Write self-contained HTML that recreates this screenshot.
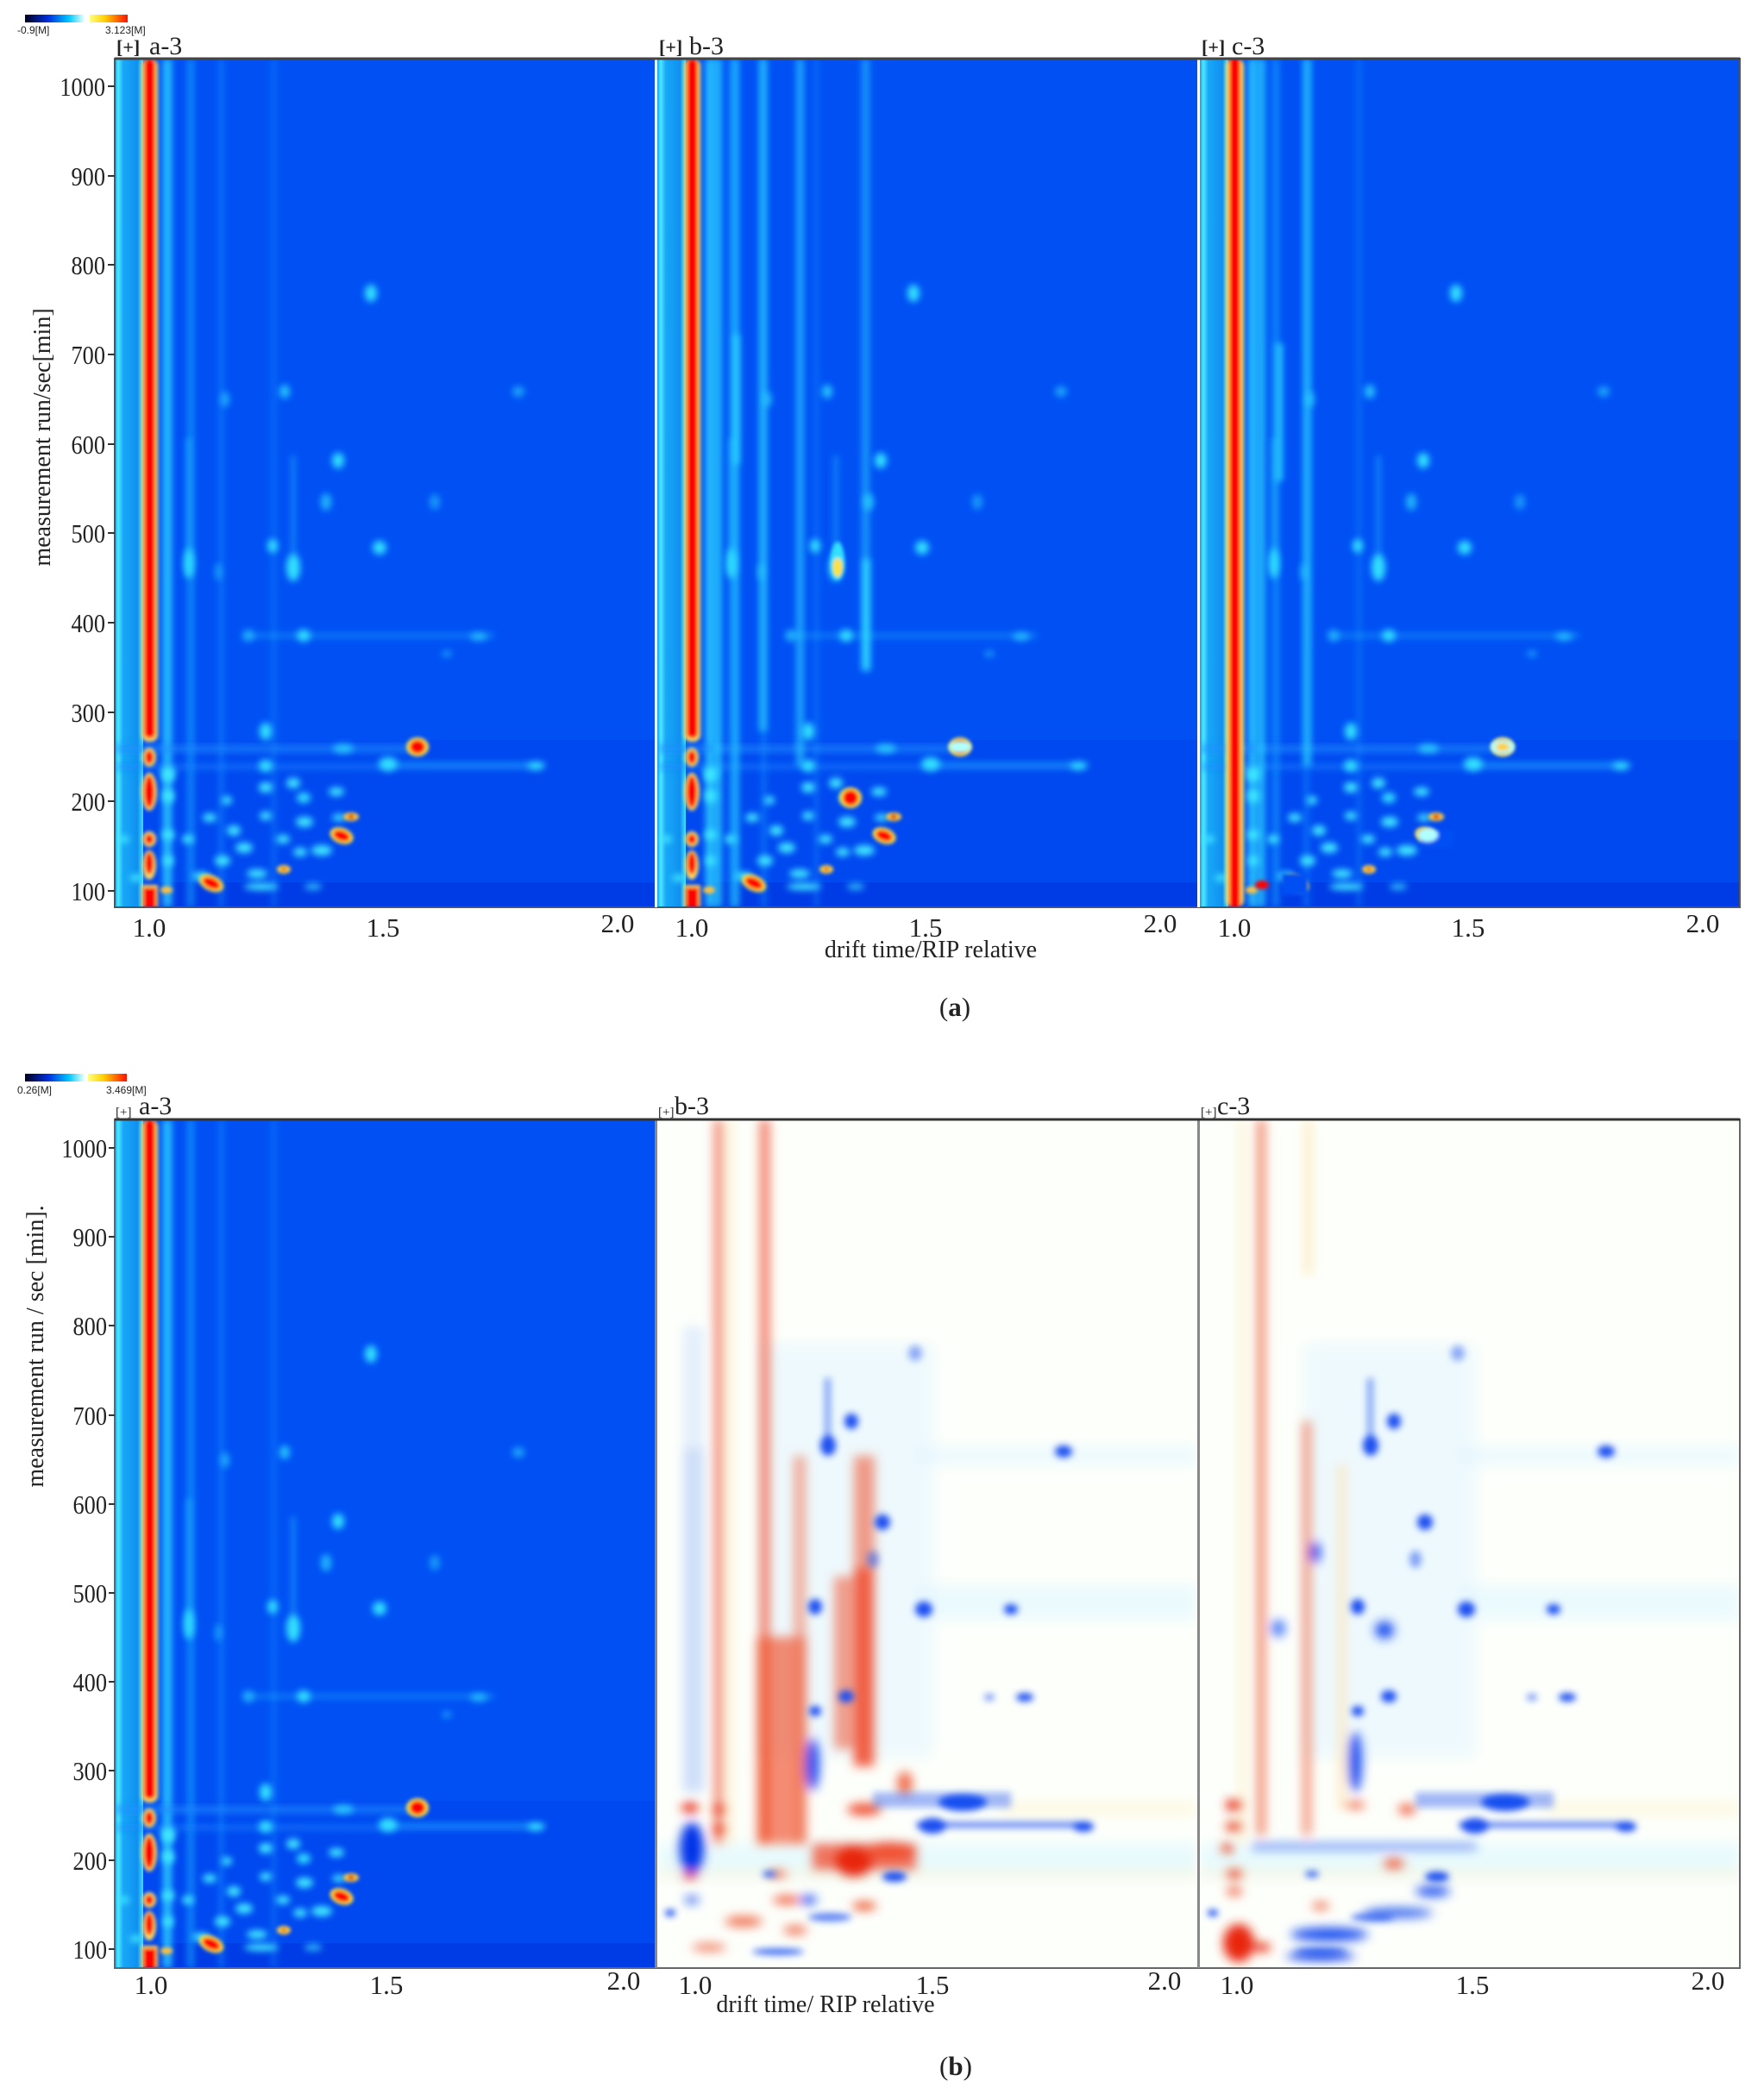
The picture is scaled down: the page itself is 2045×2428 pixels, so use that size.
<!DOCTYPE html>
<html><head><meta charset="utf-8"><style>
html,body{margin:0;padding:0;background:#fff;}
svg{display:block;}
text{font-family:"Liberation Serif",serif;fill:#222;}
.tk{font-size:31px;}
</style></head><body>
<svg width="2045" height="2428" viewBox="0 0 2045 2428" xmlns="http://www.w3.org/2000/svg">
<defs>
<filter id="b2" x="-50%" y="-50%" width="200%" height="200%"><feGaussianBlur stdDeviation="2"/></filter>
<filter id="b4" x="-50%" y="-50%" width="200%" height="200%"><feGaussianBlur stdDeviation="4"/></filter>
<filter id="b6" x="-50%" y="-50%" width="200%" height="200%"><feGaussianBlur stdDeviation="6"/></filter>
<filter id="b8" x="-50%" y="-50%" width="200%" height="200%"><feGaussianBlur stdDeviation="8"/></filter>
<linearGradient id="cb1" x1="0" x2="1"><stop offset="0" stop-color="#000020"/><stop offset="0.4" stop-color="#0030e0"/><stop offset="0.75" stop-color="#00c8ff"/><stop offset="1" stop-color="#e0ffff"/></linearGradient>
<linearGradient id="cb2" x1="0" x2="1"><stop offset="0" stop-color="#ffff80"/><stop offset="0.4" stop-color="#ffd000"/><stop offset="1" stop-color="#ff1000"/></linearGradient>
<linearGradient id="leftband" x1="0" x2="1"><stop offset="0" stop-color="#10a0f0"/><stop offset="0.12" stop-color="#50e8ff"/><stop offset="0.3" stop-color="#18a8f8"/><stop offset="0.8" stop-color="#1090f0"/><stop offset="1" stop-color="#40e0ff"/></linearGradient>

<g id="blueBase">
  <rect x="0" y="0" width="626" height="984" fill="#0050f4"/>
  <rect x="0" y="790" width="626" height="194" fill="#0048f0"/>
  <rect x="0" y="955" width="626" height="29" fill="#003ce6"/>
  <rect x="0" y="0" width="33" height="984" fill="url(#leftband)"/>
  <g filter="url(#b4)" opacity="0.85">
    <rect x="56" y="0" width="10" height="984" fill="#30d8ff"/>
    <rect x="84" y="0" width="8" height="984" fill="#1ab0ff" opacity="0.7"/>
    <rect x="120" y="0" width="7" height="984" fill="#1a98ff" opacity="0.55"/>
    <rect x="181" y="0" width="7" height="984" fill="#1a90ff" opacity="0.45"/>
  </g>
  <g filter="url(#b4)" fill="#40e8ff">
    <rect x="0" y="795" width="360" height="10" fill="#1a90ff" opacity="0.6"/>
    <rect x="0" y="817" width="480" height="8" fill="#1a88ff" opacity="0.5"/>
    <ellipse cx="62" cy="830" rx="8" ry="9"/><ellipse cx="62" cy="855" rx="7" ry="8"/>
    <ellipse cx="62" cy="900" rx="7" ry="6"/><ellipse cx="62" cy="930" rx="6" ry="6"/>
    <ellipse cx="10" cy="905" rx="7" ry="4"/><ellipse cx="25" cy="950" rx="8" ry="4"/>
    <ellipse cx="85" cy="905" rx="7" ry="5"/><ellipse cx="110" cy="880" rx="8" ry="5"/>
    <ellipse cx="125" cy="930" rx="9" ry="6"/><ellipse cx="150" cy="915" rx="10" ry="6"/>
    <ellipse cx="165" cy="945" rx="12" ry="5"/><ellipse cx="138" cy="895" rx="8" ry="6"/>
    <ellipse cx="175" cy="878" rx="7" ry="5"/><ellipse cx="220" cy="885" rx="10" ry="6"/>
    <ellipse cx="240" cy="918" rx="12" ry="6"/><ellipse cx="215" cy="920" rx="8" ry="5"/>
    <ellipse cx="100" cy="948" rx="10" ry="5"/><ellipse cx="170" cy="960" rx="20" ry="4"/>
    <ellipse cx="195" cy="905" rx="8" ry="5"/><ellipse cx="260" cy="880" rx="8" ry="4"/>
    <ellipse cx="175" cy="845" rx="8" ry="6"/><ellipse cx="207" cy="840" rx="8" ry="6"/>
    <ellipse cx="257" cy="850" rx="9" ry="5"/><ellipse cx="130" cy="860" rx="6" ry="5"/>
    <ellipse cx="230" cy="960" rx="10" ry="4" opacity="0.7"/>
  </g>
</g>

<g id="spotsA">
  <g filter="url(#b4)" fill="#30e0ff">
    <ellipse cx="86" cy="585" rx="6" ry="18"/>
    <rect x="83" y="440" width="6" height="150" opacity="0.4"/>
    <ellipse cx="207" cy="590" rx="8" ry="16"/>
    <rect x="204" y="460" width="6" height="130" opacity="0.35"/>
    <ellipse cx="183" cy="565" rx="6" ry="8"/>
    <ellipse cx="307" cy="567" rx="8" ry="8"/>
    <ellipse cx="259" cy="466" rx="7" ry="9"/>
    <ellipse cx="245" cy="514" rx="6" ry="10" opacity="0.7"/>
    <ellipse cx="371" cy="514" rx="6" ry="9" opacity="0.5"/>
    <ellipse cx="219" cy="669" rx="8" ry="7"/>
    <ellipse cx="155" cy="669" rx="7" ry="7" opacity="0.6"/>
    <ellipse cx="422" cy="670" rx="10" ry="5" opacity="0.7"/>
    <rect x="150" y="666" width="290" height="6" opacity="0.3"/>
    <ellipse cx="297" cy="272" rx="7" ry="10"/>
    <ellipse cx="197" cy="386" rx="6" ry="8" opacity="0.8"/>
    <ellipse cx="468" cy="386" rx="7" ry="6" opacity="0.6"/>
    <ellipse cx="128" cy="395" rx="5" ry="9" opacity="0.6"/>
    <ellipse cx="175" cy="780" rx="7" ry="10"/>
    <ellipse cx="317" cy="818" rx="11" ry="8"/>
    <ellipse cx="488" cy="820" rx="10" ry="5"/>
    <rect x="320" y="816" width="180" height="5" opacity="0.35"/>
    <ellipse cx="265" cy="800" rx="12" ry="5" opacity="0.8"/>
    <ellipse cx="219" cy="857" rx="8" ry="6"/>
    <ellipse cx="175" cy="820" rx="8" ry="7"/>
    <ellipse cx="120" cy="595" rx="4" ry="10" opacity="0.5"/>
    <ellipse cx="385" cy="690" rx="6" ry="4" opacity="0.5"/>
  </g>
  <g filter="url(#b2)">
    <ellipse cx="351" cy="798" rx="13" ry="11" fill="#ffe040"/>
    <ellipse cx="351" cy="798" rx="9" ry="8" fill="#f00"/>
    <ellipse cx="263" cy="901" rx="14" ry="9" fill="#ffe040" transform="rotate(20 263 901)"/>
    <ellipse cx="263" cy="901" rx="10" ry="6" fill="#f00" transform="rotate(20 263 901)"/>
    <ellipse cx="274" cy="879" rx="9" ry="5" fill="#ffd040"/>
    <ellipse cx="274" cy="879" rx="4" ry="3" fill="#e03000"/>
    <ellipse cx="112" cy="956" rx="15" ry="9" fill="#ffe040" transform="rotate(25 112 956)"/>
    <ellipse cx="112" cy="956" rx="11" ry="6" fill="#f00" transform="rotate(25 112 956)"/>
    <ellipse cx="196" cy="940" rx="8" ry="5" fill="#ffd040"/>
    <ellipse cx="196" cy="940" rx="3" ry="2" fill="#e03000"/>
    <ellipse cx="60" cy="964" rx="7" ry="4" fill="#ffc040"/>
  </g>
</g>

<g id="ripA">
  <g filter="url(#b2)">
    <rect x="31" y="0" width="19" height="792" rx="8" fill="#ffe060"/>
    <rect x="34" y="0" width="13" height="788" rx="6" fill="#f00"/>
    <g fill="#ffe060">
      <ellipse cx="40" cy="810" rx="8" ry="11"/><ellipse cx="40" cy="850" rx="9" ry="22"/>
      <ellipse cx="40" cy="905" rx="8" ry="9"/><ellipse cx="40" cy="935" rx="8" ry="17"/>
      <rect x="31" y="958" width="19" height="26"/>
    </g>
    <g fill="#f00">
      <ellipse cx="40" cy="810" rx="5" ry="8"/><ellipse cx="40" cy="850" rx="6" ry="19"/>
      <ellipse cx="40" cy="905" rx="5" ry="6"/><ellipse cx="40" cy="933" rx="5" ry="13"/>
      <rect x="33" y="961" width="15" height="23"/>
    </g>
  </g>
</g>

<g id="diffBase">
  <rect x="0" y="0" width="626" height="984" fill="#fdfffb"/>
  <g filter="url(#b8)">
    <rect x="300" y="540" width="326" height="40" fill="#e0f6ff" opacity="0.6"/>
    <rect x="0" y="840" width="626" height="40" fill="#d8f6ff" opacity="0.6"/>
    <rect x="300" y="380" width="326" height="20" fill="#e4f6ff" opacity="0.7"/>
    <rect x="400" y="795" width="226" height="8" fill="#fff0c0" opacity="0.8"/>
    <rect x="0" y="870" width="626" height="8" fill="#fff0c8" opacity="0.6"/>
    <rect x="120" y="260" width="200" height="480" fill="#e0f4ff" opacity="0.5"/>
  </g>
</g>

<g id="diffBlue">
  <g filter="url(#b4)" fill="#1a50f0">
    <ellipse cx="198" cy="378" rx="9" ry="12"/>
    <rect x="194" y="300" width="7" height="80" opacity="0.5"/>
    <ellipse cx="225" cy="350" rx="8" ry="9"/>
    <ellipse cx="261" cy="467" rx="9" ry="9"/>
    <ellipse cx="183" cy="565" rx="8" ry="9"/>
    <ellipse cx="309" cy="568" rx="10" ry="9"/>
    <ellipse cx="410" cy="568" rx="8" ry="6"/>
    <ellipse cx="471" cy="385" rx="10" ry="7"/>
    <ellipse cx="426" cy="670" rx="10" ry="5"/>
    <ellipse cx="219" cy="669" rx="9" ry="7"/>
    <ellipse cx="299" cy="271" rx="8" ry="9" opacity="0.45"/>
    <ellipse cx="354" cy="792" rx="28" ry="10"/>
    <rect x="250" y="780" width="160" height="18" opacity="0.4"/>
    <ellipse cx="319" cy="819" rx="16" ry="9"/>
    <rect x="300" y="814" width="200" height="8" opacity="0.6"/>
    <ellipse cx="494" cy="820" rx="12" ry="6"/>
    <ellipse cx="183" cy="686" rx="7" ry="6"/>
    <ellipse cx="250" cy="510" rx="7" ry="10" opacity="0.5"/>
    <ellipse cx="385" cy="670" rx="6" ry="4" opacity="0.6"/>
    <ellipse cx="275" cy="878" rx="14" ry="6"/>
    <ellipse cx="200" cy="925" rx="25" ry="5" opacity="0.7"/>
    <ellipse cx="15" cy="920" rx="6" ry="4"/>
    <ellipse cx="130" cy="875" rx="8" ry="4" opacity="0.8"/>
    <ellipse cx="140" cy="965" rx="30" ry="4" opacity="0.8"/>
  </g>
</g>
</defs>

<!-- ================= (a) ================= -->
<rect x="29" y="17" width="68" height="9" fill="url(#cb1)"/>
<rect x="104" y="17" width="44" height="9" fill="url(#cb2)"/>
<text x="20" y="39" font-size="12" style="font-family:'Liberation Sans',sans-serif">-0.9[M]</text>
<text x="122" y="39" font-size="12" style="font-family:'Liberation Sans',sans-serif">3.123[M]</text>

<text x="135" y="62" font-size="22" font-weight="bold">[+]</text><text x="173" y="63" font-size="30">a-3</text>
<text x="764" y="62" font-size="22" font-weight="bold">[+]</text><text x="799" y="63" font-size="30">b-3</text>
<text x="1393" y="62" font-size="22" font-weight="bold">[+]</text><text x="1428" y="63" font-size="30">c-3</text>

<svg x="133" y="68" width="626" height="984" overflow="hidden">
  <use href="#blueBase"/><use href="#spotsA"/><use href="#ripA"/>
</svg>
<svg x="762" y="68" width="626" height="984" overflow="hidden">
  <use href="#blueBase"/>
  <g filter="url(#b4)" fill="#30e0ff">
    <rect x="65" y="0" width="10" height="984" opacity="0.7"/>
    <rect x="87" y="0" width="8" height="984" opacity="0.55"/>
    <rect x="87" y="320" width="9" height="150" opacity="0.8"/>
    <rect x="118" y="0" width="9" height="780" opacity="0.65"/>
    <rect x="161" y="0" width="9" height="820" opacity="0.6"/>
    <rect x="237" y="0" width="9" height="700" opacity="0.5"/>
    <rect x="237" y="580" width="10" height="130" opacity="0.9"/>
  </g>
  <use href="#spotsA"/>
  <g filter="url(#b2)">
    <ellipse cx="209" cy="582" rx="8" ry="22" fill="#30e0ff"/>
    <ellipse cx="209" cy="590" rx="6" ry="11" fill="#ffe040"/>
    <ellipse cx="224" cy="857" rx="13" ry="12" fill="#ffe040"/>
    <ellipse cx="224" cy="857" rx="9" ry="9" fill="#f00"/>
    <ellipse cx="351" cy="798" rx="13" ry="7" fill="#b0ffff"/>
  </g>
  <use href="#ripA"/>
</svg>
<svg x="1391" y="68" width="626" height="984" overflow="hidden">
  <use href="#blueBase"/>
  <g filter="url(#b4)" fill="#30e0ff">
    <rect x="66" y="0" width="10" height="984" opacity="0.7"/>
    <rect x="120" y="0" width="9" height="820" opacity="0.65"/>
    <rect x="88" y="330" width="8" height="160" opacity="0.8"/>
  </g>
  <use href="#spotsA"/>
  <g filter="url(#b2)">
    <rect x="30" y="0" width="21" height="984" rx="8" fill="#ffe060"/>
    <rect x="34" y="0" width="13" height="984" fill="#f00"/>
    <ellipse cx="351" cy="798" rx="14" ry="9" fill="#b0ffff"/>
    <ellipse cx="351" cy="798" rx="8" ry="5" fill="#ffd040"/>
    <rect x="255" y="895" width="40" height="20" fill="#0050f4"/>
    <ellipse cx="264" cy="900" rx="12" ry="8" fill="#b0ffff"/>
    <rect x="95" y="945" width="30" height="25" fill="#0050f4"/>
    <ellipse cx="72" cy="958" rx="8" ry="5" fill="#f00"/>
  </g>
</svg>
<rect x="133" y="68" width="1884" height="984" fill="none" stroke="#555" stroke-width="2"/>
<line x1="760.5" y1="66" x2="760.5" y2="1052" stroke="#fff" stroke-width="3"/>
<line x1="1389.5" y1="66" x2="1389.5" y2="1052" stroke="#fff" stroke-width="3"/>
<line x1="133" y1="68" x2="2017" y2="68" stroke="#444" stroke-width="3"/>

<g class="tk" text-anchor="end">
  <g transform="translate(122,0) scale(0.85,1)">
  <text x="0" y="111">1000</text><text x="0" y="215">900</text><text x="0" y="318">800</text>
  <text x="0" y="422">700</text><text x="0" y="526">600</text><text x="0" y="629">500</text>
  <text x="0" y="733">400</text><text x="0" y="837">300</text><text x="0" y="940">200</text>
  <text x="0" y="1044">100</text>
  </g>
</g>
<g stroke="#333" stroke-width="2">
  <line x1="125" y1="100" x2="133" y2="100"/><line x1="125" y1="204" x2="133" y2="204"/><line x1="125" y1="307" x2="133" y2="307"/>
  <line x1="125" y1="411" x2="133" y2="411"/><line x1="125" y1="515" x2="133" y2="515"/><line x1="125" y1="618" x2="133" y2="618"/>
  <line x1="125" y1="722" x2="133" y2="722"/><line x1="125" y1="826" x2="133" y2="826"/><line x1="125" y1="929" x2="133" y2="929"/>
  <line x1="125" y1="1033" x2="133" y2="1033"/>
</g>
<g class="tk" text-anchor="middle">
  <text x="173" y="1086">1.0</text><text x="444" y="1086">1.5</text><text x="716" y="1081">2.0</text>
  <text x="802" y="1086">1.0</text><text x="1073" y="1086">1.5</text><text x="1345" y="1081">2.0</text>
  <text x="1431" y="1086">1.0</text><text x="1702" y="1086">1.5</text><text x="1974" y="1081">2.0</text>
</g>
<text x="1079" y="1110" font-size="28" text-anchor="middle">drift time/RIP relative</text>
<text transform="translate(58,507) rotate(-90)" font-size="28" text-anchor="middle">measurement run/sec[min]</text>
<text x="1107" y="1178" font-size="31" text-anchor="middle">(<tspan font-weight="bold">a</tspan>)</text>

<!-- ================= (b) ================= -->
<rect x="29" y="1245" width="68" height="9" fill="url(#cb1)"/>
<rect x="102" y="1245" width="45" height="9" fill="url(#cb2)"/>
<text x="20" y="1268" font-size="12" style="font-family:'Liberation Sans',sans-serif">0.26[M]</text>
<text x="123" y="1268" font-size="12" style="font-family:'Liberation Sans',sans-serif">3.469[M]</text>

<text x="134" y="1294" font-size="15">[+]</text><text x="161" y="1292" font-size="30">a-3</text>
<text x="763" y="1294" font-size="15">[+]</text><text x="782" y="1292" font-size="30">b-3</text>
<text x="1392" y="1294" font-size="15">[+]</text><text x="1411" y="1292" font-size="30">c-3</text>

<svg x="133" y="1298" width="626" height="984" overflow="hidden">
  <use href="#blueBase"/><use href="#spotsA"/><use href="#ripA"/>
</svg>

<svg x="762" y="1298" width="626" height="984" overflow="hidden">
  <use href="#diffBase"/>
  <g filter="url(#b6)">
    <rect x="30" y="380" width="24" height="400" fill="#8ab0f8" opacity="0.4"/>
    <rect x="30" y="240" width="24" height="140" fill="#c0d8ff" opacity="0.4"/>
    <rect x="66" y="0" width="10" height="840" fill="#ee6040" opacity="0.75"/>
    <rect x="82" y="0" width="6" height="840" fill="#ffe0a0" opacity="0.5"/>
    <rect x="119" y="0" width="11" height="840" fill="#ee5030" opacity="0.75"/>
    <rect x="115" y="600" width="58" height="240" fill="#f05028" opacity="0.65"/>
    <rect x="158" y="390" width="14" height="450" fill="#f07050" opacity="0.55"/>
    <rect x="205" y="530" width="22" height="200" fill="#f06040" opacity="0.6"/>
    <rect x="228" y="390" width="24" height="360" fill="#f05a38" opacity="0.6"/>
    <rect x="228" y="520" width="22" height="230" fill="#f03818" opacity="0.6"/>
    <ellipse cx="287" cy="770" rx="9" ry="14" fill="#f07050"/>
    <rect x="180" y="840" width="120" height="30" fill="#f04828" opacity="0.75"/>
    <ellipse cx="228" cy="860" rx="22" ry="18" fill="#e82810"/>
    <ellipse cx="270" cy="848" rx="30" ry="10" fill="#f05030"/>
    <ellipse cx="40" cy="845" rx="14" ry="30" fill="#0030e8"/>
    <ellipse cx="38" cy="798" rx="10" ry="6" fill="#e82810"/>
    <ellipse cx="38" cy="877" rx="8" ry="4" fill="#e83010"/>
    <ellipse cx="72" cy="800" rx="8" ry="6" fill="#e83010"/>
    <ellipse cx="72" cy="823" rx="8" ry="6" fill="#e83010"/>
    <ellipse cx="240" cy="800" rx="20" ry="7" fill="#f05030"/>
    <ellipse cx="240" cy="912" rx="14" ry="4" fill="#e83010"/>
    <ellipse cx="150" cy="905" rx="16" ry="5" fill="#f06040"/>
    <ellipse cx="100" cy="930" rx="22" ry="6" fill="#f07050"/>
    <ellipse cx="160" cy="940" rx="14" ry="5" fill="#f07050"/>
    <ellipse cx="60" cy="960" rx="20" ry="4" fill="#f07050"/>
    <ellipse cx="140" cy="875" rx="10" ry="4" fill="#f06040"/>
    <ellipse cx="175" cy="905" rx="10" ry="5" fill="#1a50f0"/>
    <ellipse cx="40" cy="905" rx="8" ry="4" fill="#1a50f0"/>
    <ellipse cx="180" cy="748" rx="8" ry="30" fill="#1a50f0"/>
  </g>
  <use href="#diffBlue"/>
</svg>

<svg x="1391" y="1298" width="626" height="984" overflow="hidden">
  <use href="#diffBase"/>
  <g filter="url(#b6)">
    <rect x="66" y="0" width="10" height="830" fill="#ee6a48" opacity="0.75"/>
    <rect x="45" y="0" width="8" height="840" fill="#ffe8b0" opacity="0.5"/>
    <rect x="121" y="0" width="9" height="180" fill="#ffe0a0" opacity="0.6"/>
    <rect x="119" y="350" width="10" height="480" fill="#f07050" opacity="0.7"/>
    <rect x="160" y="400" width="9" height="400" fill="#ffe0b0" opacity="0.7"/>
    <ellipse cx="40" cy="795" rx="10" ry="7" fill="#e82810"/>
    <ellipse cx="40" cy="820" rx="10" ry="6" fill="#e83818"/>
    <ellipse cx="32" cy="845" rx="7" ry="5" fill="#e83010"/>
    <ellipse cx="40" cy="875" rx="9" ry="5" fill="#e83818"/>
    <ellipse cx="40" cy="895" rx="9" ry="5" fill="#f06040"/>
    <ellipse cx="45" cy="955" rx="18" ry="22" fill="#e82810"/>
    <ellipse cx="72" cy="960" rx="10" ry="5" fill="#e82810"/>
    <ellipse cx="225" cy="863" rx="12" ry="6" fill="#f06040"/>
    <ellipse cx="240" cy="800" rx="10" ry="6" fill="#f06040"/>
    <ellipse cx="180" cy="795" rx="12" ry="4" fill="#f06040"/>
    <ellipse cx="140" cy="912" rx="10" ry="4" fill="#f06040"/>
    <rect x="60" y="840" width="260" height="6" fill="#1a50f0" opacity="0.7"/>
    <ellipse cx="180" cy="745" rx="8" ry="35" fill="#1a50f0"/>
    <ellipse cx="214" cy="592" rx="11" ry="10" fill="#1a50f0"/>
    <ellipse cx="91" cy="590" rx="8" ry="10" fill="#4a7af8"/>
    <ellipse cx="134" cy="502" rx="6" ry="12" fill="#1a50f0"/>
    <ellipse cx="150" cy="945" rx="45" ry="8" fill="#1a50f0"/>
    <ellipse cx="140" cy="970" rx="40" ry="5" fill="#0030e8"/>
    <ellipse cx="230" cy="920" rx="40" ry="6" fill="#3a6af0"/>
    <ellipse cx="270" cy="895" rx="20" ry="6" fill="#1a50f0"/>
  </g>
  <use href="#diffBlue"/>
</svg>

<rect x="133" y="1298" width="1884" height="984" fill="none" stroke="#666" stroke-width="2"/>
<line x1="760.5" y1="1298" x2="760.5" y2="2282" stroke="#888" stroke-width="3"/>
<line x1="1389.5" y1="1298" x2="1389.5" y2="2282" stroke="#888" stroke-width="3"/>
<line x1="133" y1="1298" x2="2017" y2="1298" stroke="#333" stroke-width="3"/>

<g class="tk" text-anchor="end">
  <g transform="translate(124,0) scale(0.85,1)">
  <text x="0" y="1342">1000</text><text x="0" y="1445">900</text><text x="0" y="1548">800</text>
  <text x="0" y="1652">700</text><text x="0" y="1755">600</text><text x="0" y="1858">500</text>
  <text x="0" y="1961">400</text><text x="0" y="2064">300</text><text x="0" y="2168">200</text>
  <text x="0" y="2271">100</text>
  </g>
</g>
<g stroke="#333" stroke-width="2">
  <line x1="126" y1="1331" x2="133" y2="1331"/><line x1="126" y1="1434" x2="133" y2="1434"/><line x1="126" y1="1537" x2="133" y2="1537"/>
  <line x1="126" y1="1641" x2="133" y2="1641"/><line x1="126" y1="1744" x2="133" y2="1744"/><line x1="126" y1="1847" x2="133" y2="1847"/>
  <line x1="126" y1="1950" x2="133" y2="1950"/><line x1="126" y1="2053" x2="133" y2="2053"/><line x1="126" y1="2157" x2="133" y2="2157"/>
  <line x1="126" y1="2260" x2="133" y2="2260"/>
</g>
<g class="tk" text-anchor="middle">
  <text x="175" y="2312">1.0</text><text x="448" y="2312">1.5</text><text x="723" y="2307">2.0</text>
  <text x="806" y="2312">1.0</text><text x="1081" y="2312">1.5</text><text x="1350" y="2307">2.0</text>
  <text x="1434" y="2312">1.0</text><text x="1707" y="2312">1.5</text><text x="1980" y="2307">2.0</text>
</g>
<text x="957" y="2333" font-size="28" text-anchor="middle">drift time/ RIP relative</text>
<text transform="translate(50,1561) rotate(-90)" font-size="28" text-anchor="middle">measurement run / sec [min].</text>
<text x="1108" y="2406" font-size="31" text-anchor="middle">(<tspan font-weight="bold">b</tspan>)</text>
</svg>
</body></html>
